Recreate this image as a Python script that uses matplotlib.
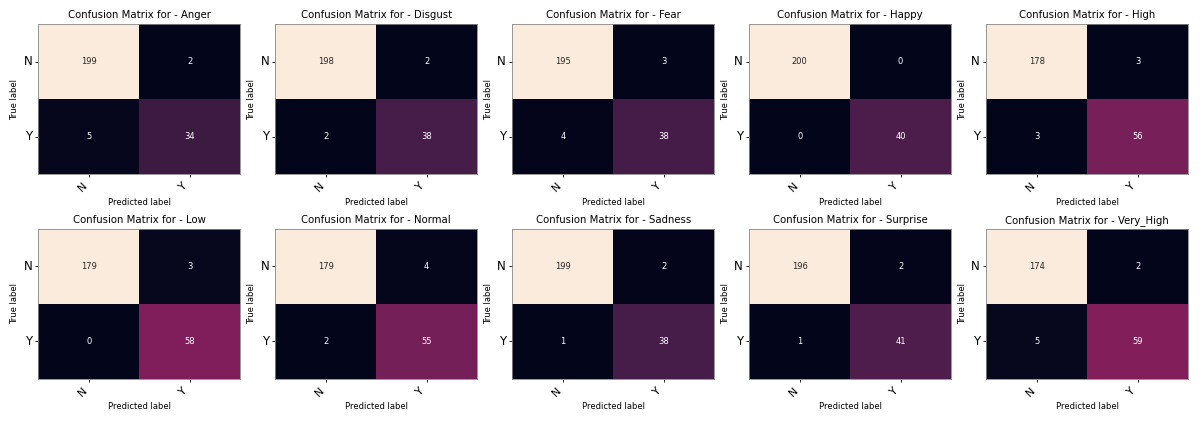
import matplotlib
matplotlib.use("Agg")
import matplotlib.pyplot as plt
import numpy as np
import seaborn as sns

classes = ["Anger", "Disgust", "Fear", "Happy", "High",
           "Low", "Normal", "Sadness", "Surprise", "Very_High"]
tick_labels = ["N", "Y"]
# [[TN, FP], [FN, TP]] per class
matrices = {
    "Anger": [[199, 2], [5, 34]],
    "Disgust": [[198, 2], [2, 38]],
    "Fear": [[195, 3], [4, 38]],
    "Happy": [[200, 0], [0, 40]],
    "High": [[178, 3], [3, 56]],
    "Low": [[179, 3], [0, 58]],
    "Normal": [[179, 4], [2, 55]],
    "Sadness": [[199, 2], [1, 38]],
    "Surprise": [[196, 2], [1, 41]],
    "Very_High": [[174, 2], [5, 59]],
}

fig, axes = plt.subplots(2, 5, figsize=(12, 4.21), dpi=100)
fig.subplots_adjust(left=0.032, right=0.99, top=0.943, bottom=0.1, wspace=0.175, hspace=0.36)

for ax, name in zip(axes.flatten(), classes):
    cm = np.array(matrices[name])
    sns.heatmap(cm, annot=True, fmt="d", cbar=False, cmap="rocket", ax=ax,
                annot_kws={"fontsize": 6})
    ax.set_xticklabels(tick_labels, rotation=45, ha="right", fontsize=8)
    ax.set_yticklabels(tick_labels, rotation=0, ha="right", fontsize=8.5)
    ax.tick_params(length=2.5, width=0.6, pad=2)
    ax.set_ylabel("True label", fontsize=6, labelpad=3)
    ax.set_xlabel("Predicted label", fontsize=6, labelpad=3)
    ax.set_title("Confusion Matrix for - " + name, fontsize=7.3, pad=4)
    for s in ax.spines.values():
        s.set_visible(True)
        s.set_color("#888888")
        s.set_linewidth(0.6)

fig.savefig("out.png", dpi=100)
